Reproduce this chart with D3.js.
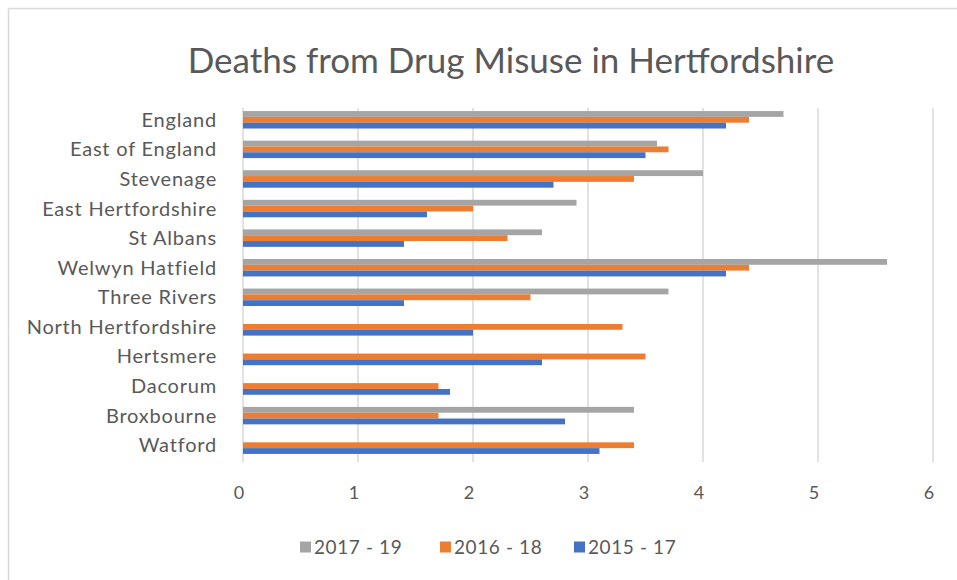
<!DOCTYPE html>
<html>
<head>
<meta charset="utf-8">
<script src="https://cdn.jsdelivr.net/npm/d3@7"></script>
<style>
  html, body { margin: 0; padding: 0; background: #fff; }
  svg { display: block; }
  text { font-family: Lato, "Open Sans", sans-serif; fill: #595959; }
</style>
</head>
<body>
<svg id="chart" width="957" height="580"></svg>
<script>
const categories = ["England", "East of England", "Stevenage", "East Hertfordshire", "St Albans",
  "Welwyn Hatfield", "Three Rivers", "North Hertfordshire", "Hertsmere", "Dacorum", "Broxbourne", "Watford"];
const seriesNames = ["2017 - 19", "2016 - 18", "2015 - 17"];
const values2017_19 = [4.7, 3.6, 4.0, 2.9, 2.6, 5.6, 3.7, null, null, null, 3.4, null];
const values2016_18 = [4.4, 3.7, 3.4, 2.0, 2.3, 4.4, 2.5, 3.3, 3.5, 1.7, 1.7, 3.4];
const values2015_17 = [4.2, 3.5, 2.7, 1.6, 1.4, 4.2, 1.4, 2.0, 2.6, 1.8, 2.8, 3.1];
const seriesColors = ["#a5a5a5", "#ed7d31", "#4472c4"];
const xTicks = [0, 1, 2, 3, 4, 5, 6];
const title = "Deaths from Drug Misuse in Hertfordshire";

const seriesValues = [values2017_19, values2016_18, values2015_17];

const svg = d3.select("#chart");
const W = 957, H = 580;
const plot = { left: 243, right: 933, top: 105, bottom: 460 };

// chart border (top and left edges visible)
svg.append("line").attr("x1", 8.5).attr("x2", W).attr("y1", 8.5).attr("y2", 8.5)
  .attr("stroke", "#d9d9d9").attr("stroke-width", 1.5);
svg.append("line").attr("x1", 8.5).attr("x2", 8.5).attr("y1", 8.5).attr("y2", H)
  .attr("stroke", "#d9d9d9").attr("stroke-width", 1.5);

// title
svg.append("text").attr("x", 511).attr("y", 73).attr("text-anchor", "middle")
  .style("font-size", "35px").text(title);

const x = d3.scaleLinear().domain([0, 6]).range([plot.left, plot.right]);
const y = d3.scaleBand().domain(categories).range([plot.top, plot.bottom]).paddingInner(0.41).paddingOuter(0.205);
const ySub = d3.scaleBand().domain(seriesNames).range([0, y.bandwidth()]);

// gridlines
svg.append("g").selectAll("line").data(xTicks).join("line")
  .attr("x1", d => x(d)).attr("x2", d => x(d))
  .attr("y1", plot.top + 3).attr("y2", plot.bottom + 2)
  .attr("stroke", "#d9d9d9").attr("stroke-width", 1.5);

// bars
seriesNames.forEach((s, i) => {
  svg.append("g").selectAll("rect")
    .data(categories.map((c, j) => ({ c, v: seriesValues[i][j] })).filter(d => d.v != null))
    .join("rect")
    .attr("x", x(0))
    .attr("y", d => y(d.c) + ySub(s))
    .attr("width", d => x(d.v) - x(0))
    .attr("height", ySub.bandwidth())
    .attr("fill", seriesColors[i]);
});

// category labels
svg.append("g").selectAll("text").data(categories).join("text")
  .attr("x", 217).attr("y", d => y(d) + y.bandwidth() / 2)
  .attr("dy", "0.35em").attr("text-anchor", "end")
  .style("font-size", "20px").style("letter-spacing", "0.8px").text(d => d);

// x tick labels
svg.append("g").selectAll("text").data(xTicks).join("text")
  .attr("x", d => x(d) - 4).attr("y", 493).attr("dy", "0.35em")
  .attr("text-anchor", "middle").style("font-size", "18px").text(d => d);

// legend
const legendX = [300, 440, 574];
const lg = svg.append("g").selectAll("g").data(seriesNames).join("g")
  .attr("transform", (d, i) => `translate(${legendX[i]},547)`);
lg.append("rect").attr("x", 0).attr("y", -5.5).attr("width", 11).attr("height", 11)
  .attr("fill", (d, i) => seriesColors[i]);
lg.append("text").attr("x", 14).attr("y", 0).attr("dy", "0.35em")
  .style("font-size", "19px").style("letter-spacing", "0.6px").text(d => d);
</script>
</body>
</html>
